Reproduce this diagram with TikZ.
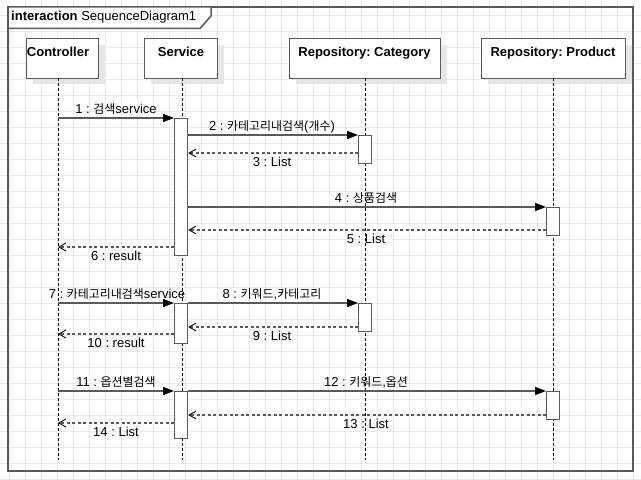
\documentclass[tikz,border=0pt]{standalone}
\usepackage{fontspec}
\setmainfont{Liberation Sans}
\newfontfamily\kr[Scale=0.92]{Noto Sans CJK KR}
\usetikzlibrary{arrows.meta}
\definecolor{gridc}{HTML}{EBEBEB}
\definecolor{linec}{HTML}{5A5A5A}
\definecolor{shadowc}{HTML}{E6E6E6}
\frenchspacing
\begin{document}
\begin{tikzpicture}[x=1bp,y=-1bp,
  gridline/.style={draw=gridc, line width=1bp},
  headbox/.style={draw=linec, line width=1.4bp, fill=white, inner sep=0pt, anchor=north west},
  headtext/.style={font=\bfseries\fontsize{13bp}{15bp}\selectfont, anchor=base, inner sep=0pt},
  shadowbox/.style={fill=shadowc},
  lifeline/.style={draw=black, line width=0.8bp, dash pattern=on 3bp off 2bp},
  actbox/.style={draw=linec, line width=1.3bp, fill=white, inner sep=0pt, minimum width=13bp, anchor=north west},
  callmsg/.style={draw=linec, line width=1.3bp, -{Triangle[length=11bp,width=8bp,black]}},
  retmsg/.style={draw=linec, line width=1.2bp, dash pattern=on 3bp off 2.5bp, -{Straight Barb[length=7bp,width=8bp,line width=0.9bp,black]}},
  msglabel/.style={font=\fontsize{13bp}{15bp}\selectfont, anchor=base, inner sep=0pt},
  framebox/.style={draw=linec, line width=1.5bp}
]
\useasboundingbox (0,0) rectangle (641,480);
\fill[white] (0,0) rectangle (641,480);
% grid
\foreach \i in {0,...,39} \draw[gridline] (9.5+16*\i,0) -- (9.5+16*\i,480);
\foreach \j in {0,...,29} \draw[gridline] (0,15.5+16*\j) -- (641,15.5+16*\j);

% frame
\draw[framebox] (8,7) rectangle (633,471);
\filldraw[framebox, fill=white] (8,7) -- (211,7) -- (211,16) -- (200,28.5) -- (8,28.5) -- cycle;
\node[font=\fontsize{13bp}{15bp}\selectfont, anchor=base west, inner sep=0pt] (title) at (11,21) {\textbf{interaction} SequenceDiagram1};

% shadows
\fill[shadowbox] (33,45) rectangle (105,84);
\fill[shadowbox] (151,45) rectangle (224,84);
\fill[shadowbox] (296,45) rectangle (447,84);
\fill[shadowbox] (488,45) rectangle (632,84);

% heads
\node[headbox, minimum width=72bp, minimum height=40bp] (ctrl) at (26,38) {};
\node[headbox, minimum width=73bp, minimum height=40bp] (svc) at (144,38) {};
\node[headbox, minimum width=151bp, minimum height=40bp] (cat) at (289,38) {};
\node[headbox, minimum width=144bp, minimum height=40bp] (prod) at (481,38) {};
\node[headtext] (ctrlT) at (58,56.5) {Controller};
\node[headtext] (svcT) at (181,56.5) {Service};
\node[headtext] (catT) at (364.5,56.5) {Repository: Category};
\node[headtext] (prodT) at (553,56.5) {Repository: Product};

% lifelines
\coordinate (ctrlTop) at (58,78); \coordinate (ctrlEnd) at (58,460);
\coordinate (svcTop) at (182,78); \coordinate (svcEnd) at (182,460);
\coordinate (catTop) at (365,78); \coordinate (catEnd) at (365,460);
\coordinate (prodTop) at (553,78); \coordinate (prodEnd) at (553,460);
\draw[lifeline] (ctrlTop) -- (ctrlEnd);
\draw[lifeline] (svcTop) -- (svcEnd);
\draw[lifeline] (catTop) -- (catEnd);
\draw[lifeline] (prodTop) -- (prodEnd);

% activations
\node[actbox, minimum height=137bp] (sA1) at (174,118) {};
\node[actbox, minimum height=28bp] (cA1) at (358,135) {};
\node[actbox, minimum height=28bp] (pA1) at (546,207) {};
\node[actbox, minimum height=40bp] (sA2) at (174,303) {};
\node[actbox, minimum height=28bp] (cA2) at (358,303) {};
\node[actbox, minimum height=47bp] (sA3) at (174,391) {};
\node[actbox, minimum height=28bp] (pA2) at (546,391) {};

% lifeline message coordinates
\coordinate (c1) at (58,118);
\coordinate (c6) at (58,247);
\coordinate (c7) at (58,303);
\coordinate (c10) at (58,334);
\coordinate (c11) at (58,391);
\coordinate (c14) at (58,423);

% block 1
\draw[callmsg] (c1) -- (c1 -| sA1.west);
\node[msglabel] (l1) at (116,113.5) {1 : {\kr 검색}service};
\draw[callmsg] (sA1.east |- cA1.north) -- (cA1.north west);
\node[msglabel] (l2) at (272,130.5) {2 : {\kr 카테고리내검색}({\kr 개수})};
\draw[retmsg] (cA1.west |- 0,153) -- (sA1.east |- 0,153);
\node[msglabel] (l3) at (272,166.7) {3 : List};
\draw[callmsg] (sA1.east |- pA1.north) -- (pA1.north west);
\node[msglabel] (l4) at (366,202.5) {4 : {\kr 상품검색}};
\draw[retmsg] (pA1.west |- 0,230) -- (sA1.east |- 0,230);
\node[msglabel] (l5) at (366,243.7) {5 : List};
\draw[retmsg] (sA1.west |- c6) -- (c6);
\node[msglabel] (l6) at (116,260.7) {6 : result};

% block 2
\draw[callmsg] (c7) -- (c7 -| sA2.west);
\node[msglabel] (l7) at (117,298.5) {7 : {\kr 카테고리내검색}service};
\draw[callmsg] (sA2.north east) -- (cA2.north west);
\node[msglabel] (l8) at (272,298.5) {8 : {\kr 키워드},{\kr 카테고리}};
\draw[retmsg] (cA2.west |- 0,327) -- (sA2.east |- 0,327);
\node[msglabel] (l9) at (272,340.7) {9 : List};
\draw[retmsg] (sA2.west |- c10) -- (c10);
\node[msglabel] (l10) at (116,347.7) {10 : result};

% block 3
\draw[callmsg] (c11) -- (c11 -| sA3.west);
\node[msglabel] (l11) at (116,386.5) {11 : {\kr 옵션별검색}};
\draw[callmsg] (sA3.north east) -- (pA2.north west);
\node[msglabel] (l12) at (366,386.5) {12 : {\kr 키워드},{\kr 옵션}};
\draw[retmsg] (pA2.west |- 0,415) -- (sA3.east |- 0,415);
\node[msglabel] (l13) at (366,428.7) {13 : List};
\draw[retmsg] (sA3.west |- c14) -- (c14);
\node[msglabel] (l14) at (116,436.7) {14 : List};
\end{tikzpicture}
\end{document}
